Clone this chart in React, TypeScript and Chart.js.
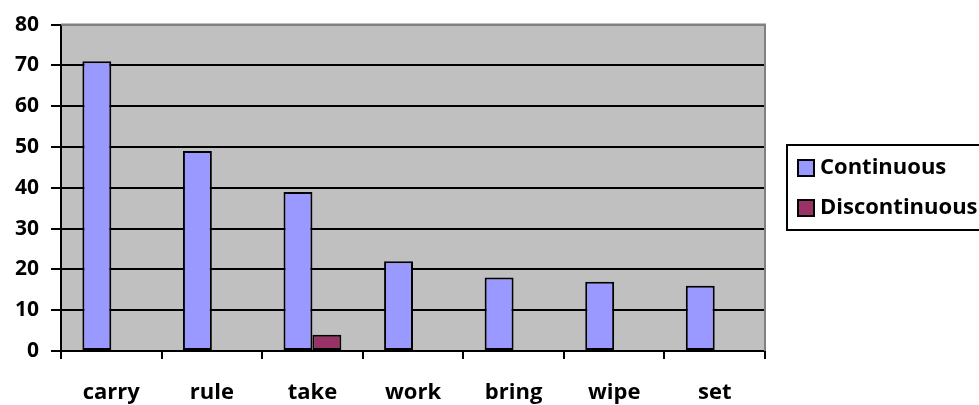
import React, { useEffect, useRef } from "react";
import { Chart, registerables } from "chart.js";

Chart.register(...registerables);

const categories = ["carry", "rule", "take", "work", "bring", "wipe", "set"];
const continuous = [71, 49, 39, 22, 18, 17, 16];
const discontinuous = [0, 0, 4, 0, 0, 0, 0];
const seriesNames = ["Continuous", "Discontinuous"];
const seriesColors = ["#9999FF", "#993366"];
const yMin = 0;
const yMax = 80;
const yStep = 10;

const FONT = "'Open Sans', 'DejaVu Sans', sans-serif";

const plotBg = {
  id: "plotBg",
  beforeDraw(chart: any) {
    const { ctx, chartArea: a } = chart;
    ctx.save();
    ctx.fillStyle = "#C0C0C0";
    ctx.fillRect(a.left, a.top, a.right - a.left, a.bottom - a.top);
    ctx.restore();
  },
  afterDatasetsDraw(chart: any) {
    const { ctx, chartArea: a } = chart;
    ctx.save();
    ctx.strokeStyle = "#808080";
    ctx.lineWidth = 2;
    ctx.beginPath();
    ctx.moveTo(a.left, a.top);
    ctx.lineTo(a.right, a.top);
    ctx.lineTo(a.right, a.bottom);
    ctx.stroke();
    ctx.restore();
  },
};

const customLegend = {
  id: "customLegend",
  afterDraw(chart: any) {
    const { ctx, chartArea: a } = chart;
    const x0 = a.right + 22;
    const y0 = 145;
    ctx.save();
    ctx.fillStyle = "#FFFFFF";
    ctx.fillRect(x0, y0, 400, 85);
    ctx.strokeStyle = "#000000";
    ctx.lineWidth = 2;
    ctx.strokeRect(x0, y0, 400, 85);
    ctx.font = `bold 22px ${FONT}`;
    ctx.textBaseline = "middle";
    ctx.textAlign = "left";
    chart.data.datasets.forEach((ds: any, i: number) => {
      const cy = y0 + 23 + i * 40;
      ctx.fillStyle = ds.backgroundColor;
      ctx.fillRect(x0 + 11, cy - 8, 16, 16);
      ctx.lineWidth = 2;
      ctx.strokeStyle = "#000";
      ctx.strokeRect(x0 + 11, cy - 8, 16, 16);
      ctx.fillStyle = "#000";
      ctx.fillText(ds.label, x0 + 33, cy);
    });
    ctx.restore();
  },
};

export default function App() {
  const ref = useRef<HTMLCanvasElement>(null);
  useEffect(() => {
    if (!ref.current) return;
    Chart.defaults.font.family = FONT;
    const chart = new Chart(ref.current, {
      type: "bar",
      data: {
        labels: categories,
        datasets: [
          {
            label: seriesNames[0],
            data: continuous,
            backgroundColor: seriesColors[0],
            borderColor: "#000",
            borderWidth: 2,
            borderSkipped: false,
          },
          {
            label: seriesNames[1],
            data: discontinuous,
            backgroundColor: seriesColors[1],
            borderColor: "#000",
            borderWidth: 2,
            borderSkipped: false,
          },
        ],
      },
      options: {
        responsive: false,
        animation: false,
        devicePixelRatio: 1,
        layout: { padding: { top: 24, right: 214, left: 0, bottom: 0 } },
        plugins: { legend: { display: false }, tooltip: { enabled: false } },
        datasets: { bar: { categoryPercentage: 0.575, barPercentage: 1 } },
        scales: {
          x: {
            offset: true,
            grid: {
              offset: true,
              drawOnChartArea: false,
              drawTicks: true,
              tickLength: 8,
              color: "#000",
              lineWidth: 2,
            },
            border: { color: "#000", width: 2 },
            ticks: {
              color: "#000",
              padding: 21,
              font: { size: 22, weight: "bold", family: FONT },
              maxRotation: 0,
            },
            afterFit(scale: any) {
              scale.height = 54;
            },
          },
          y: {
            min: yMin,
            max: yMax,
            grid: {
              color: (c: any) => (c.tick && c.tick.value === yMax ? "#808080" : "#000"),
              tickColor: "#000",
              lineWidth: 2,
              tickLength: 10,
            },
            border: { color: "#000", width: 2 },
            ticks: {
              stepSize: yStep,
              color: "#000",
              padding: 12,
              font: { size: 21, weight: "bold", family: FONT },
            },
            afterFit(scale: any) {
              scale.width = 61;
            },
          },
        },
      },
      plugins: [plotBg, customLegend],
    });
    return () => chart.destroy();
  }, []);
  return (
    <div style={{ position: "absolute", left: 0, top: 0, width: 979, height: 405, background: "#fff" }}>
      <canvas ref={ref} width={979} height={405} style={{ display: "block" }} />
    </div>
  );
}
